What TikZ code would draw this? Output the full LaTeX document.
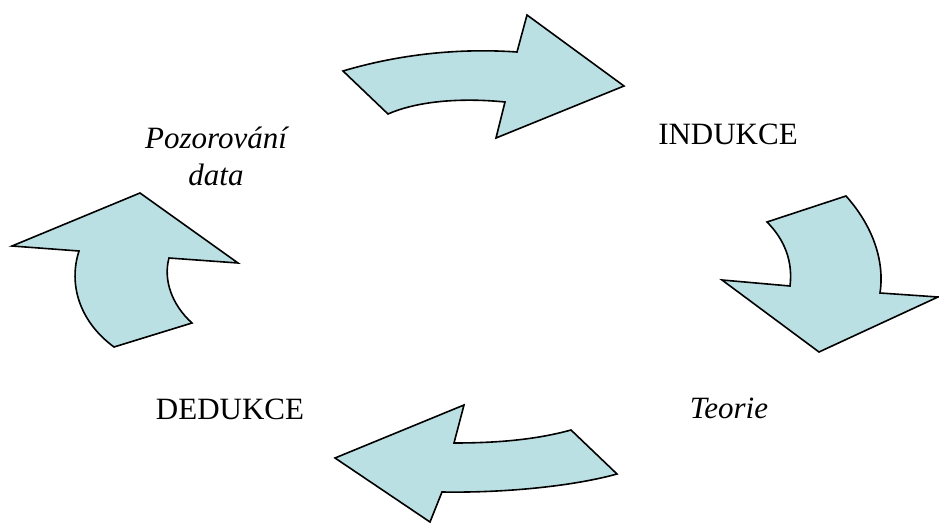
\documentclass[tikz,border=0pt]{standalone}
\usepackage{fontspec}
\setmainfont{Liberation Serif}
\usepackage{tikz}
\definecolor{arrowfill}{RGB}{187,224,227}
\tikzstyle{blockarrow} = [
    draw=black,
    fill=arrowfill,
    line width=0.8pt,
    line join=miter
]
\tikzstyle{label} = [
    font=\fontsize{15.5}{18.5}\selectfont,
    inner sep=0pt
]

\begin{document}
\begin{tikzpicture}[x=0.5pt, y=-0.5pt]

\useasboundingbox (0,0) rectangle (939,524);

\node [label,
    align=center,
    font=\fontsize{15.5}{18.5}\selectfont\itshape
]  (pozorovani) at (216,156) {Pozorování\\data};

\node [label,
    anchor=base
]  (indukce) at (728,145) {INDUKCE};

\node [label,
    anchor=base,
    font=\fontsize{15.5}{18.5}\selectfont\itshape
]  (teorie) at (729,419) {Teorie};

\node [label,
    anchor=base
]  (dedukce) at (230,420) {DEDUKCE};

% top arrow
\draw[blockarrow] (343,71) .. controls (400,54) and (460,48) .. (517,52)
    -- (527,15) -- (624,86) -- (496,138) -- (505,102)
    .. controls (465,98) and (420,100) .. (388,114) -- cycle;

% right arrow
\draw[blockarrow] (767,222) -- (846,196)
    .. controls (872,225) and (885,260) .. (880,293)
    -- (938,297) -- (819,352) -- (722,280) -- (790,286)
    .. controls (793,262) and (785,240) .. (767,222) -- cycle;

% bottom arrow
\draw[blockarrow] (335,458) -- (464,405) -- (454,443)
    .. controls (495,443) and (535,440) .. (571,430)
    -- (617,474) .. controls (570,487) and (500,493) .. (442,492)
    -- (430,522) -- cycle;

% left arrow
\draw[blockarrow] (12,246) -- (79,251)
    .. controls (68,285) and (80,322) .. (114,347)
    -- (192,323) .. controls (172,305) and (163,280) .. (169,258)
    -- (238,263) -- (140,193) -- cycle;

\end{tikzpicture}
\end{document}
